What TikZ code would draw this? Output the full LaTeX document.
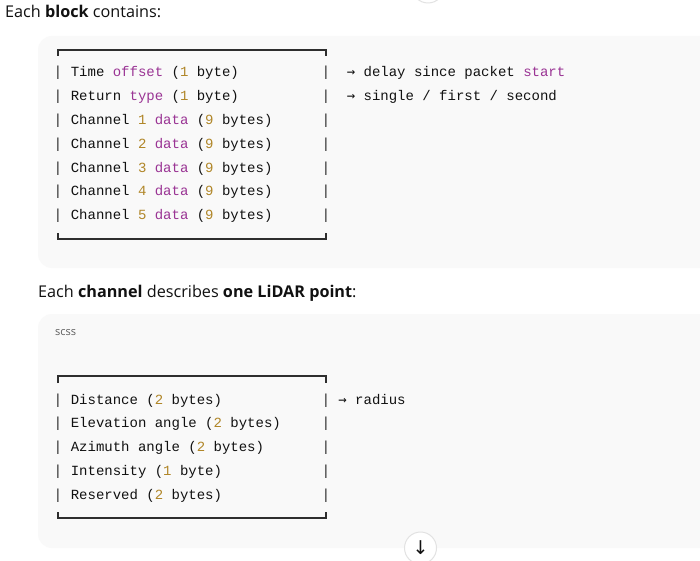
\documentclass[tikz,border=0pt]{standalone}
\usepackage{fontspec}
\setmainfont{Open Sans}
\setmonofont{Liberation Mono}
\newfontfamily\flechefont{DejaVu Sans Mono}
\newfontfamily\boutonfont{DejaVu Sans}
\definecolor{texte}{HTML}{111111}
\definecolor{motcle}{RGB}{154,52,148}
\definecolor{nombre}{RGB}{176,134,40}
\definecolor{cadre}{HTML}{2E2E2E}
\definecolor{fond}{HTML}{F9F9F9}
\definecolor{bord}{HTML}{E2E2E2}
\definecolor{gris}{HTML}{5E5E5E}
\newcommand{\motcle}[1]{\textcolor{motcle}{#1}}
\newcommand{\nombre}[1]{\textcolor{nombre}{#1}}
\begin{document}
\begin{tikzpicture}[x=1pt,y=-1pt]
		% Styles
		\tikzstyle{titre}=[anchor=base west,inner sep=0pt,text=texte,font=\fontsize{16.2}{19}\selectfont]
		\tikzstyle{etiquette}=[anchor=base west,inner sep=0pt,text=gris,font=\fontsize{11}{12}\selectfont]
		\tikzstyle{ligne}=[anchor=base west,inner sep=0pt,text=texte,font=\ttfamily\fontsize{14}{16}\selectfont]
		\tikzstyle{barre}=[anchor=base,inner sep=0pt,text=cadre,font=\ttfamily\fontsize{14.5}{16}\selectfont]
		\tikzstyle{panneau}=[fill=fond,rounded corners=14pt]
		\tikzstyle{trait}=[draw=cadre,line width=1.3pt]
		\tikzstyle{bouton}=[circle,draw=bord,fill=white,line width=1pt,minimum size=32pt,inner sep=0pt,text=texte,font=\boutonfont\fontsize{19}{19}\selectfont]
		% Dimensions
		\def\Gauche{58}
		\def\Droite{326}
		\def\Texte{70.6}
		\def\Note{346.6}
		% Cadre de la page
		\useasboundingbox (0,0) rectangle (700,561);
		\clip (0,0) rectangle (700,561);
		\fill[white] (0,0) rectangle (700,561);
		% Panneaux
		\fill[panneau] (38,36) rectangle (730,268);
		\fill[panneau] (38,314) rectangle (730,548);
		\node[bouton] (boutonHaut) at (428,-13) {};
		% Titres
		\node[titre] (titreBloc) at (5,18) {Each \textbf{block} contains:};
		\node[titre] (titreCanal) at (38,297) {Each \textbf{channel} describes \textbf{one LiDAR point}:};
		\node[etiquette] (langage) at (55,335) {scss};
		% Bloc
		\draw[trait] (\Gauche,56) |- (\Droite,50) -- (\Droite,56);
		\foreach \y [count=\i] in {77,100.8,124.6,148.4,172.2,196,219.8}{
			\node[barre] (gBloc\i) at (\Gauche,\y) {|};
			\node[barre] (dBloc\i) at (\Droite,\y) {|};
		}
		\draw[trait] (\Gauche,233) |- (\Droite,239) -- (\Droite,233);
		\node[ligne] (temps) at (\Texte,77) {Time \motcle{offset} (\nombre{1} byte)};
		\node[ligne] (retour) at (\Texte,100.8) {Return \motcle{type} (\nombre{1} byte)};
		\node[ligne] (canalA) at (\Texte,124.6) {Channel \nombre{1} \motcle{data} (\nombre{9} bytes)};
		\node[ligne] (canalB) at (\Texte,148.4) {Channel \nombre{2} \motcle{data} (\nombre{9} bytes)};
		\node[ligne] (canalC) at (\Texte,172.2) {Channel \nombre{3} \motcle{data} (\nombre{9} bytes)};
		\node[ligne] (canalD) at (\Texte,196) {Channel \nombre{4} \motcle{data} (\nombre{9} bytes)};
		\node[ligne] (canalE) at (\Texte,219.8) {Channel \nombre{5} \motcle{data} (\nombre{9} bytes)};
		\node[ligne] (noteTemps) at (\Note,77) {{\flechefont→} delay since packet \motcle{start}};
		\node[ligne] (noteRetour) at (\Note,100.8) {{\flechefont→} single / first / second};
		% Canal
		\draw[trait] (\Gauche,383) |- (\Droite,376) -- (\Droite,383);
		\foreach \y [count=\i] in {404,427.8,451.6,475.4,499.2}{
			\node[barre] (gCanal\i) at (\Gauche,\y) {|};
			\node[barre] (dCanal\i) at (\Droite,\y) {|};
		}
		\draw[trait] (\Gauche,512) |- (\Droite,518) -- (\Droite,512);
		\node[ligne] (distance) at (\Texte,404) {Distance (\nombre{2} bytes)};
		\node[ligne] (elevation) at (\Texte,427.8) {Elevation angle (\nombre{2} bytes)};
		\node[ligne] (azimut) at (\Texte,451.6) {Azimuth angle (\nombre{2} bytes)};
		\node[ligne] (intensite) at (\Texte,475.4) {Intensity (\nombre{1} byte)};
		\node[ligne] (reserve) at (\Texte,499.2) {Reserved (\nombre{2} bytes)};
		\node[ligne] (noteDistance) at (338.2,404) {{\flechefont→} radius};
		% Bouton
		\node[bouton] (defiler) at (420.5,548) {↓};
	\end{tikzpicture}
\end{document}
